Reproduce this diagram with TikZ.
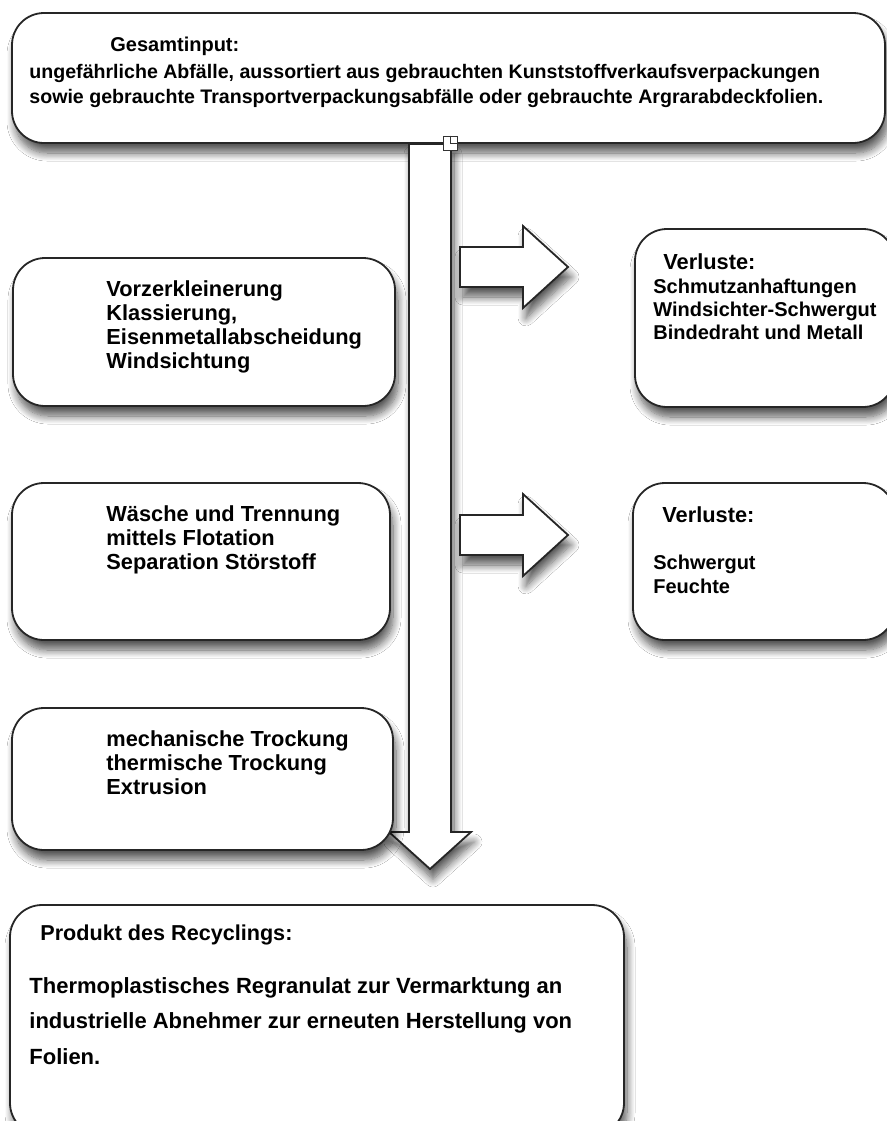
\documentclass[tikz,border=0pt]{standalone}
\usepackage{fontspec}
\setmainfont{Liberation Sans}
\usetikzlibrary{calc,shadows.blur}

\tikzset{
  softshadow/.style={blur shadow={shadow xshift=1.5pt, shadow yshift=-5pt, shadow blur radius=4pt, shadow blur steps=10, shadow opacity=65}},
  stepbox/.style={draw=black!85, line width=0.9pt, fill=white, rounded corners=16pt, inner sep=0pt, softshadow},
  flowarrow/.style={draw=black!85, line width=0.9pt, fill=white, line join=miter, softshadow},
  boxtext/.style={anchor=base west, inner sep=0pt, align=left, font=\bfseries}
}

\begin{document}
\begin{tikzpicture}[x=0.5pt,y=-0.5pt]
  \fill[white] (0,0) rectangle (887,1121);
  \useasboundingbox (0,0) rectangle (887,1121);

  % input
  \node[stepbox, minimum width=436.5pt, minimum height=65pt] (gesamt) at (448.5,78) {};

  % main flow
  \coordinate (flowtop) at (430,144);
  \coordinate (flowtip) at (430,869);
  \draw[flowarrow] ($(flowtop)+(-21,0)$) -- ($(flowtip)+(-21,-37)$) -- ($(flowtip)+(-41,-37)$) -- (flowtip)
        -- ($(flowtip)+(41,-37)$) -- ($(flowtip)+(21,-37)$) -- ($(flowtop)+(21,0)$) -- cycle;
  \node[draw=black!80, line width=0.5pt, fill=white, minimum size=7pt, inner sep=0pt] (handle) at (450,143) {};
  \draw[black!80, line width=0.5pt] (handle.north) -- (handle.center) -- (handle.east);

  % losses
  \foreach \ya in {267,535}{
    \coordinate (tail) at (460,\ya);
    \coordinate (tip) at (568,\ya);
    \draw[flowarrow] ($(tail)+(0,-20)$) -- ($(tip)+(-45,-20)$) -- ($(tip)+(-45,-41)$) -- (tip)
          -- ($(tip)+(-45,41)$) -- ($(tip)+(-45,20)$) -- ($(tail)+(0,20)$) -- cycle;
  }

  % process steps
  \node[stepbox, minimum width=191pt, minimum height=74pt] (vorzerkl) at (204,332) {};
  \node[stepbox, minimum width=189pt, minimum height=78.5pt] (waesche) at (201,561.5) {};
  \node[stepbox, minimum width=190.5pt, minimum height=71pt] (trocknung) at (202.5,779) {};

  \node[stepbox, minimum width=130pt, minimum height=89pt] (verlust1) at (765,318) {};
  \node[stepbox, minimum width=131pt, minimum height=78.5pt] (verlust2) at (764,561.5) {};

  \node[stepbox, minimum width=307pt, minimum height=115pt] (produkt) at (317,1020) {};

  % texts (multi-line nodes sit on their last baseline)
  \node[boxtext, font=\bfseries\fontsize{10}{12}\selectfont] (gesamttitle) at (110,51) {Gesamtinput:};
  \node[boxtext, font=\bfseries\fontsize{9.8}{12.2}\selectfont] (gesamttext) at (29,103)
    {ungefährliche Abfälle, aussortiert aus gebrauchten Kunststoffverkaufsverpackungen\\
     sowie gebrauchte Transportverpackungsabfälle oder gebrauchte Argrarabdeckfolien.};

  \node[boxtext, font=\bfseries\fontsize{10.9}{11.85}\selectfont] (vorzerkltext) at (106,368)
    {Vorzerkleinerung\\Klassierung,\\Eisenmetallabscheidung\\Windsichtung};
  \node[boxtext, font=\bfseries\fontsize{10.9}{11.85}\selectfont] (waeschetext) at (106,569)
    {Wäsche und Trennung\\mittels Flotation\\Separation Störstoff};
  \node[boxtext, font=\bfseries\fontsize{10.9}{11.85}\selectfont] (trocknungtext) at (106,794)
    {mechanische Trockung\\thermische Trockung\\Extrusion};

  \node[boxtext, font=\bfseries\fontsize{10.9}{12}\selectfont] (verlust1title) at (663,269) {Verluste:};
  \node[boxtext, font=\bfseries\fontsize{10}{11.4}\selectfont] (verlust1text) at (653,339)
    {Schmutzanhaftungen\\Windsichter-Schwergut\\Bindedraht und Metall};
  \node[boxtext, font=\bfseries\fontsize{10.9}{12}\selectfont] (verlust2title) at (662,522) {Verluste:};
  \node[boxtext, font=\bfseries\fontsize{10}{12}\selectfont] (verlust2text) at (653,593)
    {Schwergut\\Feuchte};

  \node[boxtext, font=\bfseries\fontsize{10.8}{13}\selectfont] (produkttitle) at (40,940) {Produkt des Recyclings:};
  \node[boxtext, font=\bfseries\fontsize{11}{17.75}\selectfont] (produkttext) at (29,1064)
    {Thermoplastisches Regranulat zur Vermarktung an\\industrielle Abnehmer zur erneuten Herstellung von\\Folien.};
\end{tikzpicture}
\end{document}
